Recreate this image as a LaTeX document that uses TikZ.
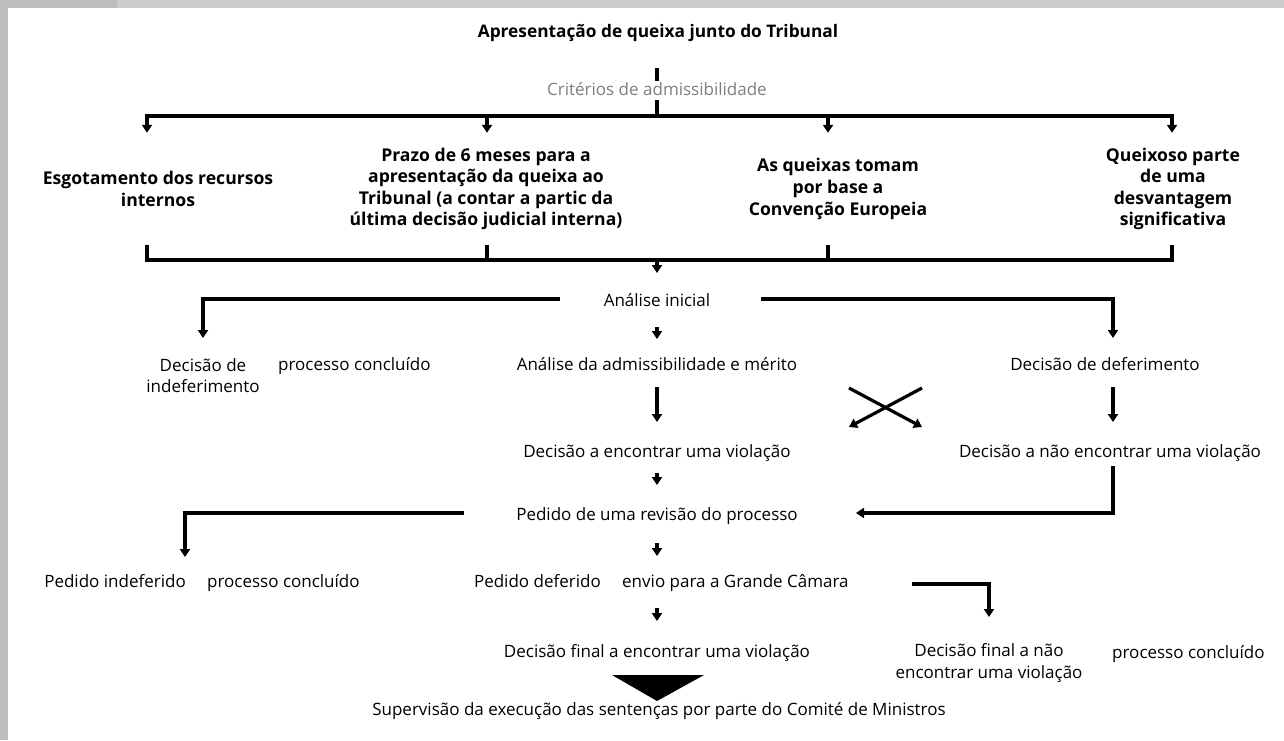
\documentclass[tikz,border=0pt]{standalone}
\usepackage{fontspec}
\setmainfont{Open Sans}
\usetikzlibrary{arrows.meta}
\definecolor{bandA}{HTML}{BDBEC0}
\definecolor{bandB}{HTML}{CBCCCE}
\definecolor{critgray}{HTML}{7F7F7F}
\begin{document}
\begin{tikzpicture}[x=1pt,y=-1pt,
  txt/.style={font=\fontsize{17}{21.2}\selectfont, inner sep=0pt, align=center},
  btxt/.style={font=\bfseries\fontsize{17.6}{21.6}\selectfont, inner sep=0pt, align=center},
  ttxt/.style={font=\bfseries\fontsize{17.3}{21}\selectfont, inner sep=0pt},
  conn/.style={line width=3.2pt, line join=miter},
  arr/.style={conn, -{Triangle[width=10pt,length=8pt]}},
  arrb/.style={conn, {Triangle[width=10pt,length=8pt]}-{Triangle[width=10pt,length=8pt]}},
]
\useasboundingbox (0,0) rectangle (1284,740);
\fill[white] (0,0) rectangle (1284,740);
\fill[bandB] (0,0) rectangle (1284,8);
\fill[bandA] (0,0) rectangle (117,8);
\fill[bandA] (0,0) rectangle (8,740);

% ---------- text nodes ----------
\node[ttxt, anchor=base] (title) at (658,37.5) {Apresentação de queixa junto do Tribunal};
\node[txt, text=critgray, anchor=base] (crit) at (657,95.5) {Critérios de admissibilidade};
\node[btxt, minimum height=112pt] (c1) at (158,189) {Esgotamento dos recursos\\internos};
\node[btxt, minimum height=112pt] (c2) at (486,189) {Prazo de 6 meses para a\\apresentação da queixa ao\\Tribunal (a contar a partic da\\última decisão judicial interna)};
\node[btxt, minimum height=112pt] (c3) at (838,189) {As queixas tomam\\por base a\\Convenção Europeia};
\node[btxt, minimum height=112pt] (c4) at (1173,189) {Queixoso parte\\de uma\\desvantagem\\significativa};

\node[txt, anchor=base] (ai) at (657,306.5) {Análise inicial};
\node[txt] (dind) at (203,375.5) {Decisão de\\indeferimento};
\node[txt, anchor=base west] (pc1) at (278,370.5) {processo concluído};
\node[txt, anchor=base] (aam) at (657,370.5) {Análise da admissibilidade e mérito};
\node[txt, anchor=base] (ddef) at (1105,370.5) {Decisão de deferimento};
\node[txt, anchor=base] (dv) at (657,457.5) {Decisão a encontrar uma violação};
\node[txt, anchor=base] (dnv) at (1110,457.5) {Decisão a não encontrar uma violação};
\node[txt, anchor=base] (ped) at (657,520.5) {Pedido de uma revisão do processo};
\node[txt, anchor=base east] (pind) at (186,587.5) {Pedido indeferido};
\node[txt, anchor=base west] (pc2) at (207,587.5) {processo concluído};
\node[txt, anchor=base east] (pdef) at (601,587.5) {Pedido deferido};
\node[txt, anchor=base west] (gc) at (622,587.5) {envio para a Grande Câmara};
\node[txt, anchor=base] (dfv) at (657,657.5) {Decisão final a encontrar uma violação};
\node[txt] (dfnv) at (989,663) {Decisão final a não\\encontrar uma violação};
\node[txt, anchor=base west] (pc3) at (1112,658.5) {processo concluído};
\node[txt, anchor=base] (sup) at (659,715.5) {Supervisão da execução das sentenças por parte do Comité de Ministros};

% ---------- junction coordinates ----------
\coordinate (tA) at (657,68);  \coordinate (tB) at (657,81);
\coordinate (cA) at (657,100); \coordinate (b0) at (657,116);
\coordinate (b1) at (147,116); \coordinate (b2) at (487,116);
\coordinate (b3) at (828,116); \coordinate (b4) at (1172,116);
\coordinate (k0) at (657,260); \coordinate (k1) at (657,273);
\coordinate (aiL) at (560,299); \coordinate (aiR) at (761,299);
\coordinate (tInd) at (203,338); \coordinate (tDef) at (1113,338);
\coordinate (s1a) at (657,327); \coordinate (s1b) at (657,339);
\coordinate (g1a) at (657,387); \coordinate (g1b) at (657,422);
\coordinate (g2a) at (1113,387); \coordinate (g2b) at (1113,422);
\coordinate (x1a) at (849,388); \coordinate (x1b) at (922,427);
\coordinate (x2a) at (922,388); \coordinate (x2b) at (849,427);
\coordinate (s2a) at (657,473); \coordinate (s2b) at (657,485);
\coordinate (r1) at (1113,466); \coordinate (r2) at (856,513);
\coordinate (pl1) at (464,513); \coordinate (pl2) at (185,557);
\coordinate (s3a) at (657,543); \coordinate (s3b) at (657,556);
\coordinate (gc1) at (912,584); \coordinate (gc2) at (989,617);
\coordinate (s4a) at (657,608); \coordinate (s4b) at (657,621);

% ---------- connectors ----------
\draw[conn] (tA) -- (tB);
\draw[conn] (cA) -- (b0);
\draw[arrb] (b1 |- c1.north) -- (b1) -- (b4) -- (b4 |- c4.north);
\draw[arr] (b2) -- (b2 |- c2.north);
\draw[arr] (b3) -- (b3 |- c3.north);

\draw[conn] (b1 |- c1.south) -- (b1 |- k0) -- (b4 |- k0) -- (b4 |- c4.south);
\draw[conn] (b2 |- c2.south) -- (b2 |- k0);
\draw[conn] (b3 |- c3.south) -- (b3 |- k0);
\draw[arr] (k0) -- (k1);

\draw[arr] (aiL) -| (tInd);
\draw[arr] (aiR) -| (tDef);
\draw[arr] (s1a) -- (s1b);
\draw[arr] (g1a) -- (g1b);
\draw[arr] (g2a) -- (g2b);
\draw[arr] (x1a) -- (x1b);
\draw[arr] (x2a) -- (x2b);
\draw[arr] (s2a) -- (s2b);
\draw[arr] (r1) |- (r2);
\draw[arr] (pl1) -| (pl2);
\draw[arr] (s3a) -- (s3b);
\draw[arr] (gc1) -| (gc2);
\draw[arr] (s4a) -- (s4b);

\fill[black] (612,675) -- (704,675) -- (657,701) -- cycle;
\end{tikzpicture}
\end{document}
